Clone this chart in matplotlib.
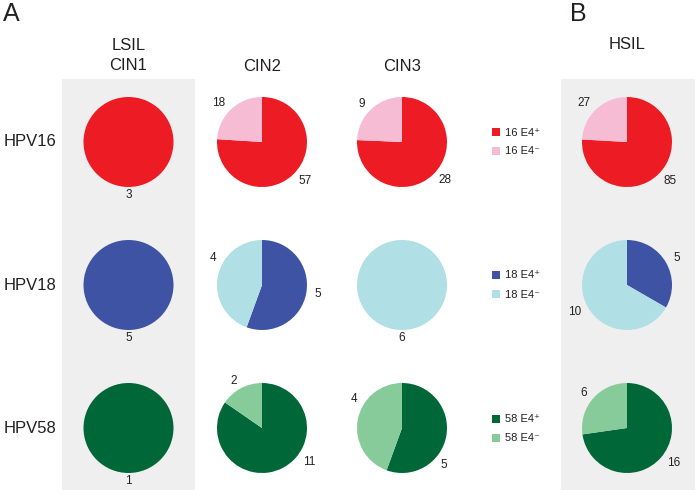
import numpy as np
import matplotlib
matplotlib.use("Agg")
import matplotlib.pyplot as plt
from matplotlib.patches import Rectangle

plt.rcParams['font.family'] = ['Liberation Sans', 'DejaVu Sans']

# data
hpv_types = ['HPV16', 'HPV18', 'HPV58']
groups = ['LSIL\nCIN1', 'CIN2', 'CIN3', 'HSIL']
hpv16_pos = [3, 57, 28, 85]
hpv16_neg = [0, 18, 9, 27]
hpv18_pos = [5, 5, 0, 5]
hpv18_neg = [0, 4, 6, 10]
hpv58_pos = [1, 11, 5, 16]
hpv58_neg = [0, 2, 4, 6]
legend_pos = ['16 E4\u207a', '18 E4\u207a', '58 E4\u207a']
legend_neg = ['16 E4\u207b', '18 E4\u207b', '58 E4\u207b']

pos_vals = [hpv16_pos, hpv18_pos, hpv58_pos]
neg_vals = [hpv16_neg, hpv18_neg, hpv58_neg]
colors = [('#ed1c24', '#f6bcd4'), ('#3f53a4', '#b0dfe5'), ('#006838', '#88cb9b')]
txt = '#231f20'

# layout in pixels (from top-left)
W, H = 697, 494
col_x = [128.5, 262, 402, 627]
row_y = [142, 285, 428]
R = 45
# hand-placed number labels in the original (row, col, wedge) -> angle in degrees
label_angle = {(1, 1, 1): 150, (2, 1, 0): -40, (2, 2, 0): -44, (2, 2, 1): 147}

fig = plt.figure(figsize=(W / 100, H / 100), dpi=100)
ax = fig.add_axes([0, 0, 1, 1])

def Y(y):
    return H - y

# grey panels
ax.add_patch(Rectangle((62, Y(490)), 133, 411, color='#efefef', lw=0, zorder=0))
ax.add_patch(Rectangle((561, Y(490)), 134, 411, color='#efefef', lw=0, zorder=0))

ax.text(3, Y(14), 'A', fontsize=18, color=txt, ha='left', va='center')
ax.text(570, Y(14), 'B', fontsize=18, color=txt, ha='left', va='center')

ax.text(col_x[0], Y(46), 'LSIL', fontsize=12, color=txt, ha='center', va='center')
ax.text(col_x[0], Y(66), 'CIN1', fontsize=12, color=txt, ha='center', va='center')
ax.text(col_x[1], Y(67), groups[1], fontsize=12, color=txt, ha='center', va='center')
ax.text(col_x[2], Y(67), groups[2], fontsize=12, color=txt, ha='center', va='center')
ax.text(col_x[3], Y(45), groups[3], fontsize=12, color=txt, ha='center', va='center')

for i, name in enumerate(hpv_types):
    cy = row_y[i]
    ax.text(4, Y(cy), name, fontsize=12, color=txt, ha='left', va='center')
    for j in range(4):
        vals = [pos_vals[i][j], neg_vals[i][j]]
        wedges, _ = ax.pie(vals, colors=colors[i], startangle=90, counterclock=False,
                           center=(col_x[j], Y(cy)), radius=R,
                           wedgeprops=dict(linewidth=0))
        for k, (w, v) in enumerate(zip(wedges, vals)):
            if v == 0:
                continue
            deg = label_angle.get((i, j, k), (w.theta1 + w.theta2) / 2)
            th = np.deg2rad(deg)
            lx = col_x[j] + 1.18 * R * np.cos(th)
            ly = Y(cy) + 1.18 * R * np.sin(th)
            if abs(np.cos(th)) < 0.2:
                ha = 'center'
            elif np.cos(th) > 0:
                ha = 'left'
            else:
                ha = 'right'
            ax.text(lx, ly, str(v), fontsize=8.5, color=txt, ha=ha, va='center')
    # legend
    ax.scatter([495.5], [Y(cy - 9.5)], marker='s', s=26, color=colors[i][0], lw=0)
    ax.scatter([495.5], [Y(cy + 9.5)], marker='s', s=26, color=colors[i][1], lw=0)
    ax.text(505, Y(cy - 9.5), legend_pos[i], fontsize=8, color=txt, ha='left', va='center')
    ax.text(505, Y(cy + 9.5), legend_neg[i], fontsize=8, color=txt, ha='left', va='center')

ax.set_xlim(0, W)
ax.set_ylim(0, H)
ax.set_aspect('auto')
ax.axis('off')

fig.savefig('out.png', dpi=100)
